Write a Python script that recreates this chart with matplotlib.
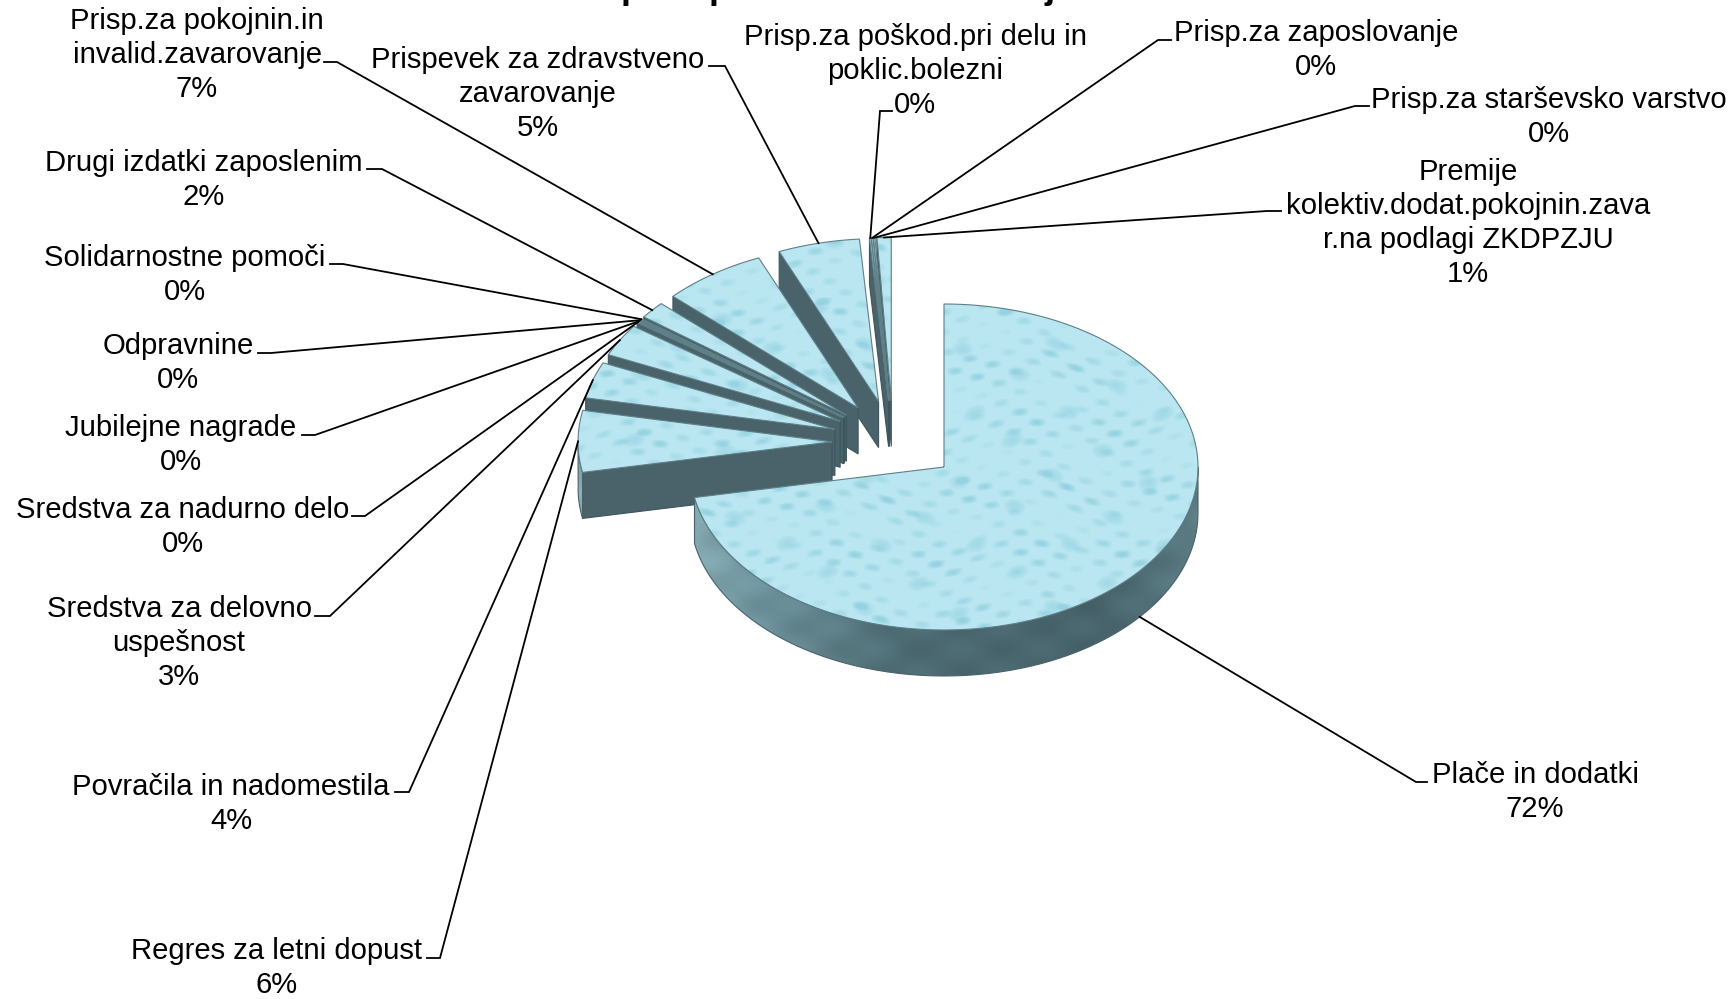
import numpy as np
import matplotlib
matplotlib.use('Agg')
import matplotlib.pyplot as plt
from matplotlib.path import Path
from matplotlib.patches import PathPatch
from matplotlib.colors import to_rgb

plt.rcParams['font.family'] = ['Liberation Sans', 'DejaVu Sans']

# Chart data, clockwise from the top of the pie
names = ['Plače in dodatki', 'Regres za letni dopust', 'Povračila in nadomestila',
         'Sredstva za delovno\nuspešnost', 'Sredstva za nadurno delo', 'Jubilejne nagrade',
         'Odpravnine', 'Solidarnostne pomoči', 'Drugi izdatki zaposlenim',
         'Prisp.za pokojnin.in\ninvalid.zavarovanje', 'Prispevek za zdravstveno\nzavarovanje',
         'Prisp.za poškod.pri delu in\npoklic.bolezni', 'Prisp.za zaposlovanje',
         'Prisp.za starševsko varstvo',
         'Premije\nkolektiv.dodat.pokojnin.zava\nr.na podlagi ZKDPZJU']
values = [72, 6.1, 3.6, 3.2, 0.1, 0.1, 0.1, 0.1, 1.7, 6.6, 5.2, 0.1, 0.1, 0.1, 0.9]

# Layout in image pixels
label_x = [1535, 277, 231, 179, 183, 181, 178, 185, 204, 197, 538, 915, 1316, 1549, 1468]
label_y = [792, 968, 804, 643, 527, 445, 363, 275, 180, 55, 94, 71, 50, 117, 223]
elbow_x = [1416, 440, 409, 330, 365, 315, 271, 343, 382, 337, 725, 880, 1158, 1355, 1267]
stub_x = [1427, 427, 395, 315, 352, 302, 258, 330, 367, 324, 709, 892, 1171, 1369, 1281]
elbow_y = [782, 958, 792, 616, 516, 435, 353, 264, 169, 62, 66, 111, 40, 106, 211]

title_bits = ['p', 'p', 'j']
title_x = [621, 709, 1044]

W, H = 1735, 999
CX, CY = 944, 467
RX, RY = 254, 163
DEPTH = 46
EXPLODE_X, EXPLODE_Y = 0.24, 0.255
SHIFT = (-51, -25)
FONT_PX = 29.2

fig = plt.figure(figsize=(W / 100, H / 100), dpi=100)
ax = fig.add_axes([0, 0, 1, 1])
ax.set_axis_off()


def rim(x0, y0, deg):
    a = np.radians(deg)
    return x0 + RX * np.sin(a), y0 - RY * np.cos(a)


# water drop look for the top faces
X, Y = np.meshgrid(np.arange(W), np.arange(H))
u = X + 9 * np.sin(Y / 23)
v = Y + 6 * np.sin(X / 31)
small = np.sin(u / 6.5) * np.sin(v / 3.2) * (0.55 + 0.45 * np.sin((u + 0.7 * v) / 29) * np.sin((v - 0.4 * u) / 13))
big = np.sin(u / 15) * np.sin(v / 10.5)
spots = np.clip(small - 0.12, 0, 1) * 1.3 + np.clip(big - 0.72, 0, 1) * 2.2
spots = np.minimum(spots, 1)[..., None]
light = np.array(to_rgb('#b9e6f0'))
dark = np.array(to_rgb('#96d3e2'))
top_img = light + (dark - light) * spots

# shaded outer wall of the big slice
stops_x = [690, 760, 900, 1100, 1200]
stops_c = [to_rgb(c) for c in ['#86abb3', '#6d929b', '#4d6b73', '#48636b', '#5d7e86']]
shade = np.stack([np.interp(X[0], stops_x, [c[i] for c in stops_c]) for i in range(3)], axis=-1)
side_img = np.repeat(shade[None, :, :], H, axis=0) * (1 + 0.05 * np.sin(X / 13)[..., None] * np.sin(Y / 7)[..., None])
side_img = np.clip(side_img, 0, 1)

z = [2]


def fill(xs, ys, img=None, color=None, edge='#5f7f88'):
    verts = np.column_stack([xs, ys])
    verts = np.vstack([verts, verts[0]])
    p = PathPatch(Path(verts), transform=ax.transData, facecolor=color if color else 'none',
                  edgecolor=edge, lw=0.8, zorder=z[0] + 1)
    ax.add_patch(p)
    if img is not None:
        im = ax.imshow(img, extent=(0, W, H, 0), aspect='auto', zorder=z[0], interpolation='nearest')
        im.set_clip_path(p)
    z[0] += 2


def draw_slice(start, end, x0, y0):
    # cut wall under the leading edge, only for the pulled out slices
    if (x0, y0) != (CX, CY):
        ox, oy = rim(x0, y0, start)
        fill([x0, ox, ox, x0], [y0, oy, oy + DEPTH, y0 + DEPTH], color='#4a636b', edge='#3d555c')
    # outer wall on the front half of the pie
    a0, a1 = max(start, 90), min(end, 270)
    if a1 > a0:
        ang = np.linspace(a0, a1, 200)
        rx, ry = rim(x0, y0, ang)
        fill(np.r_[rx, rx[::-1]], np.r_[ry, ry[::-1] + DEPTH], img=side_img, edge='#4a636b')
    # top face
    ang = np.linspace(start, end, max(int(end - start) * 2, 4))
    rx, ry = rim(x0, y0, ang)
    fill(np.r_[x0, rx], np.r_[y0, ry], img=top_img)


cum = np.cumsum([0] + values) / sum(values) * 360
starts, ends = cum[:-1], cum[1:]
mids = (starts + ends) / 2
anchors = []

# far slices first, big slice on top of everything
for i in range(len(values) - 1, -1, -1):
    if i == 0:
        x0, y0 = CX, CY
    else:
        x0 = CX + SHIFT[0] + EXPLODE_X * RX * np.sin(np.radians(mids[i]))
        y0 = CY + SHIFT[1] - EXPLODE_Y * RY * np.cos(np.radians(mids[i]))
    draw_slice(starts[i], ends[i], x0, y0)
    ax_, ay_ = rim(x0, y0, mids[i])
    anchors.append((i, ax_, ay_ + (DEPTH if i == 0 else 0)))

for i, ax_, ay_ in anchors:
    ax.plot([ax_, elbow_x[i], stub_x[i]], [ay_, elbow_y[i], elbow_y[i]], color='black',
            lw=1.3, solid_joinstyle='miter', zorder=200)
    ax.text(label_x[i], label_y[i], f'{names[i]}\n{round(values[i])}%', ha='center', va='center',
            multialignment='center', fontsize=FONT_PX * 0.72, color='black', linespacing=1.28, zorder=201)

# the title is cut off by the top of the image, only its descenders are left
for bit, tx in zip(title_bits, title_x):
    ax.text(tx, -2, bit, ha='left', va='baseline', fontsize=26, fontweight='bold', color='black')

ax.set_xlim(0, W)
ax.set_ylim(H, 0)
fig.savefig('out.png', dpi=100, facecolor='white')
